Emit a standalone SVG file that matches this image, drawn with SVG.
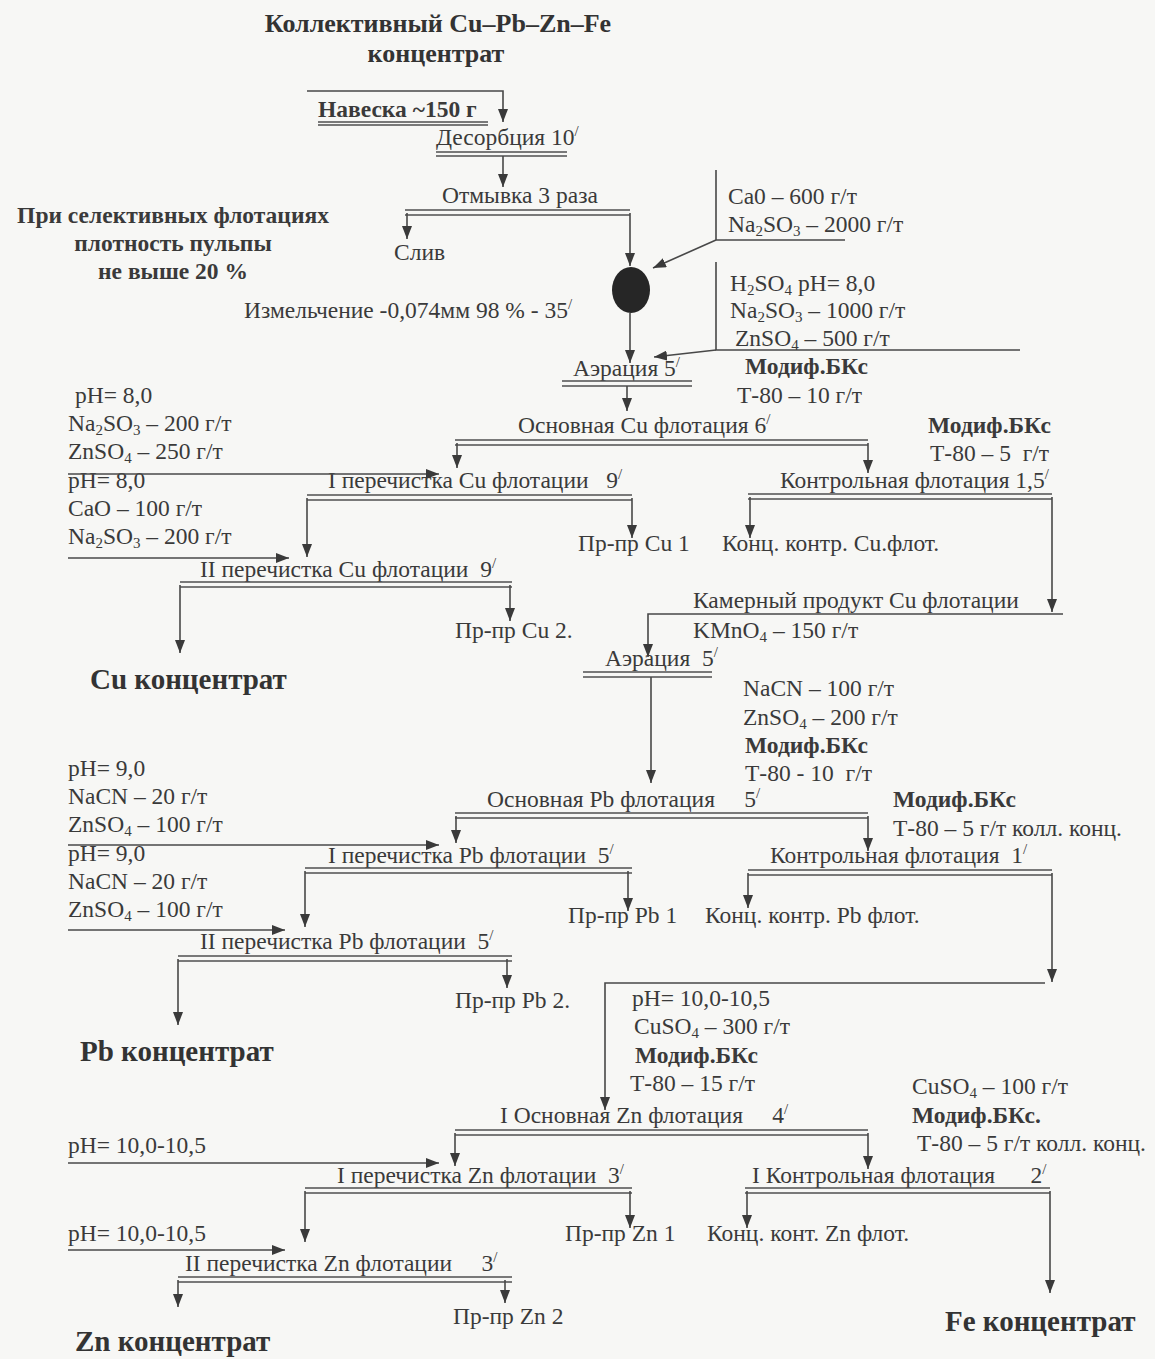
<svg xmlns="http://www.w3.org/2000/svg" width="1155" height="1359" viewBox="0 0 1155 1359">
<style>
text{white-space:pre}
.t{font-family:"Liberation Serif","Times New Roman",serif;font-size:23.5px;fill:#3a3a3a}
.b{font-weight:bold}
.h{font-family:"Liberation Serif","Times New Roman",serif;font-size:26px;font-weight:bold;fill:#333}
.k{font-family:"Liberation Serif","Times New Roman",serif;font-size:29px;font-weight:bold;fill:#333}
.n{font-family:"Liberation Serif","Times New Roman",serif;font-size:23.5px;font-weight:bold;fill:#3a3a3a}
.s{font-size:15px}
.bar{stroke:#505050;stroke-width:1.5;fill:none}
.c path{stroke:#484848;stroke-width:1.6;fill:none}
.ar{marker-end:url(#ah)}
</style>
<defs>
<marker id="ah" viewBox="0 0 13 10" markerWidth="13" markerHeight="10" refX="13" refY="5" orient="auto" markerUnits="userSpaceOnUse">
<path d="M0,0 L13,5 L0,10 z" fill="#3a3a3a"/>
</marker>
</defs>
<rect width="1155" height="1359" fill="#f7f7f5"/>

<g id="n-title">
<text class="h" x="438" y="32" text-anchor="middle">Коллективный Cu–Pb–Zn–Fe</text>
<text class="h" x="436" y="62" text-anchor="middle">концентрат</text>
</g>
<g id="n-note">
<text class="n" x="173" y="223" text-anchor="middle">При селективных флотациях</text>
<text class="n" x="173" y="251" text-anchor="middle">плотность пульпы</text>
<text class="n" x="173" y="279" text-anchor="middle">не выше 20 %</text>
</g>
<g id="n-sample">
<text class="t b" x="318" y="117">Навеска ~150 г</text>
<path class="bar" d="M318,122 H488 M318,125 H488"/>
</g>
<g id="n-desorb">
<text class="t" x="436" y="145">Десорбция 10<tspan class="s" dy="-9">/</tspan></text>
<path class="bar" d="M436,152 H567 M436,156 H567"/>
</g>
<g id="n-wash">
<text class="t" x="442" y="203">Отмывка 3 раза</text>
<path class="bar" d="M405,210 H630 M405,215 H630"/>
</g>
<g id="n-drain"><text class="t" x="394" y="260">Слив</text></g>
<g id="n-mill">
<ellipse cx="631" cy="290" rx="19" ry="23" fill="#262626"/>
<text class="t" x="244" y="318">Измельчение -0,074мм 98 % - 35<tspan class="s" dy="-9">/</tspan></text>
</g>
<g id="n-reag1">
<text class="t" x="728" y="204">Ca0 – 600 г/т</text>
<text class="t" x="728" y="232">Na<tspan class="s" dy="4">2</tspan><tspan dy="-4">SO</tspan><tspan class="s" dy="4">3</tspan><tspan dy="-4"> – 2000 г/т</tspan></text>
</g>
<g id="n-reag2">
<text class="t" x="730" y="291">H<tspan class="s" dy="4">2</tspan><tspan dy="-4">SO</tspan><tspan class="s" dy="4">4</tspan><tspan dy="-4"> pH= 8,0</tspan></text>
<text class="t" x="730" y="318">Na<tspan class="s" dy="4">2</tspan><tspan dy="-4">SO</tspan><tspan class="s" dy="4">3</tspan><tspan dy="-4"> – 1000 г/т</tspan></text>
<text class="t" x="735" y="346">ZnSO<tspan class="s" dy="4">4</tspan><tspan dy="-4"> – 500 г/т</tspan></text>
</g>
<g id="n-aer1">
<text class="t" x="573" y="376">Аэрация 5<tspan class="s" dy="-9">/</tspan></text>
<path class="bar" d="M562,381 H692 M562,386 H692"/>
</g>
<g id="n-reag3">
<text class="t b" x="745" y="374">Модиф.БКс</text>
<text class="t" x="737" y="403">Т-80 – 10 г/т</text>
</g>
<g id="n-cu-main">
<text class="t" x="518" y="433">Основная Cu флотация 6<tspan class="s" dy="-9">/</tspan></text>
<path class="bar" d="M455,440 H868 M455,445 H868"/>
</g>
<g id="n-reag-cu1">
<text class="t" x="75" y="403">pH= 8,0</text>
<text class="t" x="68" y="431">Na<tspan class="s" dy="4">2</tspan><tspan dy="-4">SO</tspan><tspan class="s" dy="4">3</tspan><tspan dy="-4"> – 200 г/т</tspan></text>
<text class="t" x="68" y="459">ZnSO<tspan class="s" dy="4">4</tspan><tspan dy="-4"> – 250 г/т</tspan></text>
</g>
<g id="n-reag-cuctl">
<text class="t b" x="928" y="433">Модиф.БКс</text>
<text class="t" x="930" y="461">Т-80 – 5  г/т</text>
</g>
<g id="n-cu-cl1">
<text class="t" x="328" y="488">I перечистка Cu флотации   9<tspan class="s" dy="-9">/</tspan></text>
<path class="bar" d="M307,495 H632 M307,500 H632"/>
</g>
<g id="n-cu-ctl">
<text class="t" x="780" y="488">Контрольная флотация 1,5<tspan class="s" dy="-9">/</tspan></text>
<path class="bar" d="M748,494 H1052 M748,499 H1052"/>
</g>
<g id="n-reag-cu2">
<text class="t" x="68" y="488">pH= 8,0</text>
<text class="t" x="68" y="516">CaO – 100 г/т</text>
<text class="t" x="68" y="544">Na<tspan class="s" dy="4">2</tspan><tspan dy="-4">SO</tspan><tspan class="s" dy="4">3</tspan><tspan dy="-4"> – 200 г/т</tspan></text>
</g>
<g id="n-cu-mid1"><text class="t" x="578" y="551">Пр-пр Cu 1</text></g>
<g id="n-cu-ctlconc"><text class="t" x="722" y="551">Конц. контр. Cu.флот.</text></g>
<g id="n-cu-cl2">
<text class="t" x="200" y="577">II перечистка Cu флотации  9<tspan class="s" dy="-9">/</tspan></text>
<path class="bar" d="M180,582 H512 M180,587 H512"/>
</g>
<g id="n-cu-tail">
<text class="t" x="693" y="608">Камерный продукт Cu флотации</text>
<text class="t" x="693" y="638">KMnO<tspan class="s" dy="4">4</tspan><tspan dy="-4"> – 150 г/т</tspan></text>
</g>
<g id="n-cu-mid2"><text class="t" x="455" y="638">Пр-пр Cu 2.</text></g>
<g id="n-aer2">
<text class="t" x="605" y="666">Аэрация  5<tspan class="s" dy="-9">/</tspan></text>
<path class="bar" d="M583,672 H712 M583,677 H712"/>
</g>
<g id="n-cu-conc"><text class="k" x="90" y="689">Cu концентрат</text></g>
<g id="n-reag-pb">
<text class="t" x="743" y="696">NaCN – 100 г/т</text>
<text class="t" x="743" y="725">ZnSO<tspan class="s" dy="4">4</tspan><tspan dy="-4"> – 200 г/т</tspan></text>
<text class="t b" x="745" y="753">Модиф.БКс</text>
<text class="t" x="745" y="781">Т-80 - 10  г/т</text>
</g>
<g id="n-reag-pb1">
<text class="t" x="68" y="776">pH= 9,0</text>
<text class="t" x="68" y="804">NaCN – 20 г/т</text>
<text class="t" x="68" y="832">ZnSO<tspan class="s" dy="4">4</tspan><tspan dy="-4"> – 100 г/т</tspan></text>
</g>
<g id="n-pb-main">
<text class="t" x="487" y="807">Основная Pb флотация     5<tspan class="s" dy="-9">/</tspan></text>
<path class="bar" d="M455,813 H868 M455,818 H868"/>
</g>
<g id="n-reag-pbctl">
<text class="t b" x="893" y="807">Модиф.БКс</text>
<text class="t" x="893" y="836">Т-80 – 5 г/т колл. конц.</text>
</g>
<g id="n-pb-cl1">
<text class="t" x="328" y="863">I перечистка Pb флотации  5<tspan class="s" dy="-9">/</tspan></text>
<path class="bar" d="M305,868 H632 M305,873 H632"/>
</g>
<g id="n-pb-ctl">
<text class="t" x="770" y="863">Контрольная флотация  1<tspan class="s" dy="-9">/</tspan></text>
<path class="bar" d="M748,870 H1052 M748,875 H1052"/>
</g>
<g id="n-reag-pb2">
<text class="t" x="68" y="861">pH= 9,0</text>
<text class="t" x="68" y="889">NaCN – 20 г/т</text>
<text class="t" x="68" y="917">ZnSO<tspan class="s" dy="4">4</tspan><tspan dy="-4"> – 100 г/т</tspan></text>
</g>
<g id="n-pb-mid1"><text class="t" x="568" y="923">Пр-пр Pb 1</text></g>
<g id="n-pb-ctlconc"><text class="t" x="705" y="923">Конц. контр. Pb флот.</text></g>
<g id="n-pb-cl2">
<text class="t" x="200" y="949">II перечистка Pb флотации  5<tspan class="s" dy="-9">/</tspan></text>
<path class="bar" d="M178,956 H512 M178,961 H512"/>
</g>
<g id="n-pb-mid2"><text class="t" x="455" y="1008">Пр-пр Pb 2.</text></g>
<g id="n-reag-zn">
<text class="t" x="632" y="1006">pH= 10,0-10,5</text>
<text class="t" x="634" y="1034">CuSO<tspan class="s" dy="4">4</tspan><tspan dy="-4"> – 300 г/т</tspan></text>
<text class="t b" x="635" y="1063">Модиф.БКс</text>
<text class="t" x="630" y="1091">Т-80 – 15 г/т</text>
</g>
<g id="n-pb-conc"><text class="k" x="80" y="1061">Pb концентрат</text></g>
<g id="n-reag-znctl">
<text class="t" x="912" y="1094">CuSO<tspan class="s" dy="4">4</tspan><tspan dy="-4"> – 100 г/т</tspan></text>
<text class="t b" x="912" y="1123">Модиф.БКс.</text>
<text class="t" x="917" y="1151">Т-80 – 5 г/т колл. конц.</text>
</g>
<g id="n-zn-main">
<text class="t" x="500" y="1123">I Основная Zn флотация     4<tspan class="s" dy="-9">/</tspan></text>
<path class="bar" d="M455,1130 H868 M455,1135 H868"/>
</g>
<g id="n-reag-zn1"><text class="t" x="68" y="1153">pH= 10,0-10,5</text></g>
<g id="n-zn-cl1">
<text class="t" x="337" y="1183">I перечистка Zn флотации  3<tspan class="s" dy="-9">/</tspan></text>
<path class="bar" d="M305,1188 H632 M305,1193 H632"/>
</g>
<g id="n-zn-ctl">
<text class="t" x="752" y="1183">I Контрольная флотация      2<tspan class="s" dy="-9">/</tspan></text>
<path class="bar" d="M745,1188 H1050 M745,1193 H1050"/>
</g>
<g id="n-reag-zn2"><text class="t" x="68" y="1241">pH= 10,0-10,5</text></g>
<g id="n-zn-mid1"><text class="t" x="565" y="1241">Пр-пр Zn 1</text></g>
<g id="n-zn-ctlconc"><text class="t" x="707" y="1241">Конц. конт. Zn флот.</text></g>
<g id="n-zn-cl2">
<text class="t" x="185" y="1271">II перечистка Zn флотации     3<tspan class="s" dy="-9">/</tspan></text>
<path class="bar" d="M178,1277 H512 M178,1282 H512"/>
</g>
<g id="n-zn-mid2"><text class="t" x="453" y="1324">Пр-пр Zn 2</text></g>
<g id="n-fe-conc"><text class="k" x="945" y="1331">Fe концентрат</text></g>
<g id="n-zn-conc"><text class="k" x="75" y="1351">Zn концентрат</text></g>

<g id="connectors" class="c">
<path class="ar" d="M307,91 H503 V122"/>
<path class="ar" d="M503,156 V187"/>
<path class="ar" d="M407,213 V239"/>
<path class="ar" d="M630,213 V266"/>
<path d="M716,170 V240 H845"/>
<path class="ar" d="M716,240 L653,268"/>
<path d="M716,262 V350 H1020"/>
<path class="ar" d="M716,350 L654,357"/>
<path class="ar" d="M630,313 V363"/>
<path class="ar" d="M627,386 V411"/>
<path class="ar" d="M457,443 V468"/>
<path class="ar" d="M868,443 V473"/>
<path class="ar" d="M68,474 H439"/>
<path class="ar" d="M307,498 V557"/>
<path class="ar" d="M632,498 V538"/>
<path class="ar" d="M68,558 H289"/>
<path class="ar" d="M180,585 V653"/>
<path class="ar" d="M510,585 V621"/>
<path class="ar" d="M750,497 V538"/>
<path class="ar" d="M1052,497 V612"/>
<path class="ar" d="M1063,614 H648 V657"/>
<path class="ar" d="M651,677 V783"/>
<path class="ar" d="M456,816 V843"/>
<path class="ar" d="M868,816 V851"/>
<path class="ar" d="M68,845 H439"/>
<path class="ar" d="M305,871 V927"/>
<path class="ar" d="M628,871 V911"/>
<path class="ar" d="M748,873 V908"/>
<path class="ar" d="M1052,873 V982"/>
<path class="ar" d="M68,930 H285"/>
<path class="ar" d="M178,959 V1025"/>
<path class="ar" d="M507,959 V988"/>
<path class="ar" d="M1045,983 H605 V1110"/>
<path class="ar" d="M455,1133 V1166"/>
<path class="ar" d="M868,1133 V1169"/>
<path class="ar" d="M68,1163 H439"/>
<path class="ar" d="M305,1191 V1242"/>
<path class="ar" d="M630,1191 V1228"/>
<path class="ar" d="M747,1191 V1228"/>
<path class="ar" d="M1050,1191 V1293"/>
<path class="ar" d="M68,1250 H285"/>
<path class="ar" d="M178,1280 V1307"/>
<path class="ar" d="M505,1280 V1303"/>
</g>
</svg>
